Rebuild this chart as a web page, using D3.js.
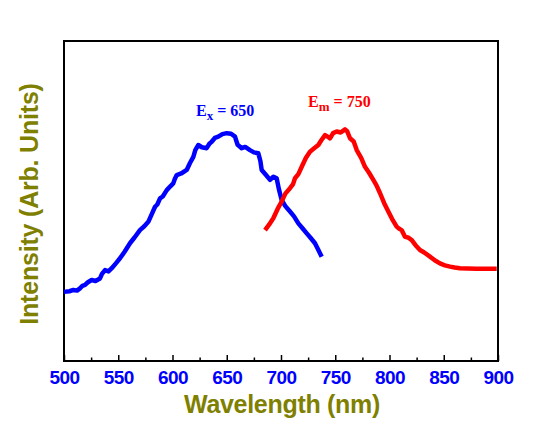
<!DOCTYPE html>
<html>
<head>
<meta charset="utf-8">
<script src="https://cdn.jsdelivr.net/npm/d3@7"></script>
<style>
  html, body { margin: 0; padding: 0; background: #fff; }
  svg { display: block; }
</style>
</head>
<body>
<svg id="chart" width="556" height="439"></svg>
<script>
// ---- Data ----
const xTicks = [500, 550, 600, 650, 700, 750, 800, 850, 900];
const xMinorTicks = [525, 575, 625, 675, 725, 775, 825, 875];

// Excitation spectrum (blue)
const exWavelength = [500, 505, 508.6, 512, 514.7, 517, 519.4, 522, 525.5, 529, 533.2, 535, 537.8, 541, 544, 548, 551.6, 556, 560.8, 565, 570, 574, 577.7, 581, 583.9, 586, 588.5, 591, 594.7, 598, 600.7, 602, 603.9, 608, 613.1, 616, 619.2, 621, 623.8, 627, 631.5, 634, 636.1, 639, 642.2, 646, 650, 654, 657.6, 660, 663.8, 667, 671.4, 675, 679.1, 681, 682.2, 686, 689.9, 693, 696, 698, 700.6, 704, 708.3, 712, 716, 720, 723.7, 727, 731.3, 734, 737.5];
const exIntensity  = [21.6, 21.8, 22.2, 22.0, 22.7, 23.5, 23.8, 24.6, 25.3, 25.0, 25.8, 27.2, 28.4, 28.0, 29.0, 30.6, 32.1, 34.2, 36.8, 38.6, 40.9, 42.1, 43.5, 46.0, 48.2, 48.9, 50.8, 51.4, 53.4, 54.6, 55.5, 56.8, 58.1, 58.6, 59.7, 61.8, 63.8, 65.9, 67.5, 66.8, 66.5, 67.9, 68.5, 69.7, 70.1, 70.9, 71.2, 71.0, 70.1, 67.6, 66.5, 66.9, 65.9, 65.2, 64.9, 62.5, 59.7, 58.2, 56.6, 57.6, 57.1, 53.8, 50.3, 48.4, 46.7, 45.2, 43.0, 41.4, 39.9, 38.6, 36.8, 35.0, 32.6];

// Emission spectrum (red)
const emWavelength = [685.3, 689, 692.9, 697, 700.6, 704, 708.3, 711, 712.9, 716, 719.1, 723, 726.7, 730, 734.4, 737, 740.6, 743, 745.2, 748, 751.3, 755, 759, 761, 763.6, 767, 769.8, 774, 777.4, 781, 785.1, 788, 791.2, 795, 798.9, 803, 806.6, 809, 811.2, 814.3, 817, 820.5, 824, 828.1, 832, 837.3, 842, 846.5, 851, 855.8, 860, 865, 872, 880.4, 890, 898.8];
const emIntensity  = [40.9, 42.6, 44.6, 47.6, 49.8, 52.3, 54.0, 55.2, 57.1, 58.4, 60.7, 63.5, 65.4, 66.3, 67.5, 68.9, 70.6, 70.1, 69.6, 71.2, 71.7, 71.4, 72.4, 71.8, 69.6, 68.6, 65.9, 63.4, 60.7, 58.9, 56.6, 54.9, 52.5, 49.4, 46.7, 44.0, 42.0, 41.3, 40.9, 38.8, 38.6, 37.8, 36.2, 34.7, 33.9, 32.6, 31.4, 30.5, 29.9, 29.5, 29.2, 29.0, 28.9, 28.8, 28.8, 28.8];

const exLabel = { main: "E", sub: "x", rest: " = 650", y: 76.5 };
const emLabel = { main: "E", sub: "m", rest: " = 750", y: 79.5 };

// ---- Layout ----
const svg = d3.select("#chart");
const margin = { left: 64, right: 58, top: 41, bottom: 78 };
const W = 556, H = 439;
const x = d3.scaleLinear().domain([500, 900]).range([margin.left, W - margin.right]);
const y = d3.scaleLinear().domain([0, 100]).range([H - margin.bottom, margin.top]);

const olive = "#808000";

// frame
svg.append("rect")
  .attr("x", x(500)).attr("y", y(100))
  .attr("width", x(900) - x(500)).attr("height", y(0) - y(100))
  .attr("fill", "none").attr("stroke", "#000").attr("stroke-width", 2);

// bottom axis: major ticks inward
const xAxis = d3.axisBottom(x).tickValues(xTicks).tickSizeInner(-6).tickSizeOuter(0).tickPadding(10).tickFormat(d3.format("d"));
const gx = svg.append("g").attr("transform", `translate(0,${y(0)})`).call(xAxis);
gx.select(".domain").remove();
gx.selectAll(".tick line").attr("stroke", "#000").attr("stroke-width", 1.5);
gx.selectAll(".tick text")
  .attr("fill", "#0000ff").attr("font-family", "Liberation Sans, Arial, sans-serif")
  .attr("font-weight", "bold").attr("font-size", 19).attr("letter-spacing", -0.5);

// minor ticks
const xMinor = d3.axisBottom(x).tickValues(xMinorTicks).tickSizeInner(-3.5).tickSizeOuter(0).tickFormat("");
const gm = svg.append("g").attr("transform", `translate(0,${y(0)})`).call(xMinor);
gm.select(".domain").remove();
gm.selectAll(".tick line").attr("stroke", "#000").attr("stroke-width", 1.5);

// lines
const line = d3.line().x(d => x(d[0])).y(d => y(d[1]));
svg.append("path")
  .datum(exWavelength.map((w, i) => [w, exIntensity[i]]))
  .attr("d", line).attr("fill", "none").attr("stroke", "#0000ff")
  .attr("stroke-width", 4.5).attr("stroke-linejoin", "round");
svg.append("path")
  .datum(emWavelength.map((w, i) => [w, emIntensity[i]]))
  .attr("d", line).attr("fill", "none").attr("stroke", "#ff0000")
  .attr("stroke-width", 4.5).attr("stroke-linejoin", "round");

// annotations
function label(l, color, anchorX) {
  const t = svg.append("text")
    .attr("x", anchorX).attr("y", y(l.y))
    .attr("fill", color).attr("font-family", "Liberation Serif, Times New Roman, serif")
    .attr("font-weight", "bold").attr("font-size", 16);
  t.append("tspan").text(l.main);
  t.append("tspan").attr("dy", 4).attr("font-size", 13).text(l.sub);
  t.append("tspan").attr("dy", -4).text(l.rest);
}
label(exLabel, "#0000ff", 196);
label(emLabel, "#ff0000", 308);

// axis titles
svg.append("text")
  .attr("x", (x(500) + x(900)) / 2 + 1).attr("y", 413)
  .attr("text-anchor", "middle").attr("fill", olive)
  .attr("font-family", "Liberation Sans, Arial, sans-serif").attr("font-weight", "bold")
  .attr("font-size", 25).attr("letter-spacing", -0.3)
  .text("Wavelength (nm)");
svg.append("text")
  .attr("transform", `translate(38,${(y(0) + y(100)) / 2 + 3}) rotate(-90)`)
  .attr("text-anchor", "middle").attr("fill", olive)
  .attr("font-family", "Liberation Sans, Arial, sans-serif").attr("font-weight", "bold")
  .attr("font-size", 25).attr("letter-spacing", -0.2)
  .text("Intensity (Arb. Units)");
</script>
</body>
</html>
